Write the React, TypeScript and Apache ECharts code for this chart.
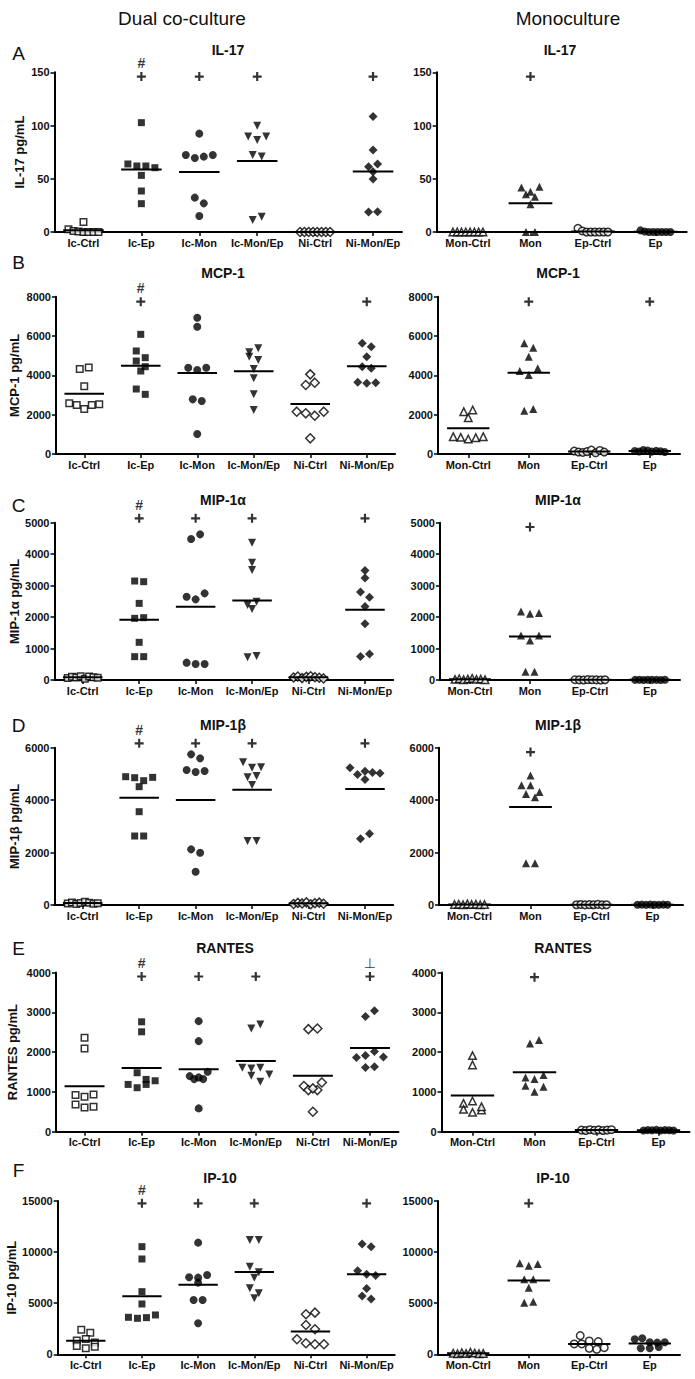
import React, { useEffect, useRef } from 'react';
import * as echarts from 'echarts';

const FONT = 'Liberation Sans, Arial, sans-serif';

const dualCats = ['Ic-Ctrl', 'Ic-Ep', 'Ic-Mon', 'Ic-Mon/Ep', 'Ni-Ctrl', 'Ni-Mon/Ep'];
const monoCats = ['Mon-Ctrl', 'Mon', 'Ep-Ctrl', 'Ep'];

// ---- IL-17 ----
const il17Dual = [
  [2.5, 9.5, 1, 0.5, 0, 0, 0, 0],
  [102.7, 63.9, 62, 62, 60.4, 53.2, 38.5, 26.6],
  [92.4, 72.3, 69.5, 70.8, 72.3, 32.3, 26.9, 15],
  [99.9, 89.6, 86.4, 89.6, 72.3, 70.8, 11.3, 14.4],
  [0, 0, 0, 0, 0, 0, 0, 0],
  [108.4, 77, 61.4, 63.9, 56.7, 49.8, 18.8, 19.1],
];
const il17Mono = [
  [0, 0, 0, 0, 0, 0, 0, 0],
  [41.7, 35.4, 33.2, 37.9, 42.6, 26, 0, 0],
  [3.5, 1, 0, 0, 0, 0, 0, 0],
  [1.5, 0.5, 0, 0, 0, 0, 0, 0],
];
const il17DualPlus = [null, 146, 146, 146, null, 146];
const il17MonoPlus = [null, 146, null, null];

// ---- MCP-1 ----
const mcp1Dual = [
  [4320, 4400, 3450, 2580, 2490, 2290, 2490, 2530],
  [6085, 5238, 4899, 4729, 4441, 4221, 3305, 3034],
  [6933, 6475, 4390, 4271, 4390, 2780, 2695, 1017],
  [5170, 5373, 4949, 4780, 4322, 3848, 3034, 2237],
  [4051, 3509, 3627, 2153, 2068, 1949, 2153, 797],
  [5627, 5458, 4949, 4441, 4356, 3650, 3593, 3627],
];
const mcp1Mono = [
  [2153, 1848, 2237, 881, 847, 763, 831, 881],
  [5627, 5407, 4949, 4220, 4017, 4356, 2203, 2288],
  [150, 100, 80, 120, 200, 60, 180, 100],
  [150, 130, 200, 180, 120, 160, 140, 100],
];
const mcp1DualPlus = [null, 7746, null, null, null, 7746];
const mcp1MonoPlus = [null, 7746, null, 7746];

// ---- MIP-1α ----
const mip1aDual = [
  [60, 100, 80, 120, 40, 110, 90, 70],
  [3146, 3125, 2436, 1960, 1981, 1197, 742, 742],
  [4481, 4629, 2648, 2563, 2754, 551, 508, 508],
  [4364, 3729, 3496, 2383, 2256, 2489, 720, 763],
  [80, 110, 60, 100, 120, 90, 70, 50],
  [3479, 3245, 2798, 2628, 2340, 1787, 745, 830],
];
const mip1aMono = [
  [20, 40, 10, 30, 50, 20, 30, 10],
  [2181, 2106, 2128, 1415, 1255, 1415, 266, 266],
  [10, 5, 0, 15, 10, 5, 0, 8],
  [5, 10, 0, 8, 5, 3, 0, 10],
];
const mip1aDualPlus = [null, 5138, 5138, 5138, null, 5138];
const mip1aMonoPlus = [null, 4862, null, null];

// ---- MIP-1β ----
const mip1bDual = [
  [60, 100, 40, 80, 120, 90, 50, 70],
  [4894, 4856, 4513, 4742, 4869, 3559, 2631, 2631],
  [5746, 5593, 5148, 5072, 5110, 2123, 1996, 1271],
  [5441, 5237, 5250, 4869, 4919, 4576, 2441, 2441],
  [40, 80, 60, 100, 30, 70, 90, 50],
  [5234, 4979, 5106, 4787, 5050, 5030, 2528, 2719],
];
const mip1bMono = [
  [20, 30, 10, 40, 20, 30, 10, 20],
  [4940, 4570, 4570, 4238, 4111, 4315, 1596, 1596],
  [10, 20, 5, 15, 10, 25, 5, 10],
  [10, 15, 5, 20, 10, 5, 15, 10],
];
const mip1bDualPlus = [null, 6165, 6165, 6165, null, 6165];
const mip1bMonoPlus = [null, 5834, null, null];

// ---- RANTES ----
const rantesDual = [
  [2360, 2092, 920, 879, 937, 686, 611, 628],
  [2761, 2510, 1481, 1314, 1188, 1105, 1188, 1280],
  [2778, 2276, 1397, 1322, 1322, 1364, 1506, 586],
  [2594, 2694, 1607, 1590, 1607, 1439, 1406, 1255],
  [2577, 2594, 1146, 1046, 1046, 1088, 1238, 502],
  [2893, 3036, 1862, 1912, 2013, 1880, 1610, 1635],
];
const rantesMono = [
  [1912, 1677, 713, 772, 562, 486, 545, 629],
  [2218, 2306, 1359, 1325, 1426, 1157, 1006, 1132],
  [40, 30, 50, 35, 45, 30, 40, 50],
  [30, 40, 35, 45, 30, 40, 35, 30],
];
const rantesDualPlus = [null, 3900, 3900, 3900, null, 3900];
const rantesMonoPlus = [null, 3883, null, null];

// ---- IP-10 ----
const ip10Dual = [
  [2400, 2100, 1350, 1500, 800, 1150, 600, 750],
  [10533, 9326, 6130, 4924, 3620, 3522, 3587, 3848],
  [10924, 7533, 7011, 7500, 7761, 5315, 5315, 3033],
  [11185, 11185, 8576, 7500, 8022, 6457, 5967, 5478],
  [3913, 4076, 2870, 2446, 1467, 1076, 978, 978],
  [10793, 10533, 8185, 7826, 7700, 6450, 5707, 5413],
];
const ip10Mono = [
  [100, 50, 150, 80, 200, 120, 60, 90],
  [8902, 8674, 8837, 7337, 7337, 6522, 5054, 5152],
  [1826, 1304, 1011, 1011, 1239, 587, 489, 652],
  [1467, 1565, 1174, 1141, 1174, 587, 587, 717],
];
const ip10DualPlus = [null, 14772, 14772, 14772, null, 14772];
const ip10MonoPlus = [null, 14772, null, null];

const dualMarks = ['', '#', '', '', '', ''];
const rantesDualMarks = ['', '#', '', '', '', '\u22A5'];

const cytokines = [
  { title: 'IL-17', yName: 'IL-17 pg/mL', max: 150, interval: 50, dual: il17Dual, mono: il17Mono, dualPlus: il17DualPlus, monoPlus: il17MonoPlus, marks: dualMarks },
  { title: 'MCP-1', yName: 'MCP-1 pg/mL', max: 8000, interval: 2000, dual: mcp1Dual, mono: mcp1Mono, dualPlus: mcp1DualPlus, monoPlus: mcp1MonoPlus, marks: dualMarks },
  { title: 'MIP-1\u03B1', yName: 'MIP-1\u03B1 pg/mL', max: 5000, interval: 1000, dual: mip1aDual, mono: mip1aMono, dualPlus: mip1aDualPlus, monoPlus: mip1aMonoPlus, marks: dualMarks },
  { title: 'MIP-1\u03B2', yName: 'MIP-1\u03B2 pg/mL', max: 6000, interval: 2000, dual: mip1bDual, mono: mip1bMono, dualPlus: mip1bDualPlus, monoPlus: mip1bMonoPlus, marks: dualMarks },
  { title: 'RANTES', yName: 'RANTES pg/mL', max: 4000, interval: 1000, dual: rantesDual, mono: rantesMono, dualPlus: rantesDualPlus, monoPlus: rantesMonoPlus, marks: rantesDualMarks },
  { title: 'IP-10', yName: 'IP-10 pg/mL', max: 15000, interval: 5000, dual: ip10Dual, mono: ip10Mono, dualPlus: ip10DualPlus, monoPlus: ip10MonoPlus, marks: dualMarks },
];

// layout (pixels)
const layout = [
  { letter: 'A', letterY: 53, titleY: 50, titleX: [228, 560], top: 72.3, height: 159.7, left: [54.5, 436.7], width: [347.5, 250], nameGap: 29 },
  { letter: 'B', letterY: 262, titleY: 273, titleX: [223, 558], top: 296.7, height: 157.3, left: [56, 438], width: [339, 242], nameGap: 35.5 },
  { letter: 'C', letterY: 505, titleY: 500, titleX: [223, 558], top: 522.7, height: 157.3, left: [54.5, 440], width: [338.7, 240], nameGap: 34 },
  { letter: 'D', letterY: 725, titleY: 725, titleX: [223, 558], top: 747.7, height: 157.3, left: [54.5, 439], width: [338.7, 244], nameGap: 34 },
  { letter: 'E', letterY: 948, titleY: 948, titleX: [225, 563], top: 972.5, height: 159.2, left: [56, 441.5], width: [342.5, 248], nameGap: 37 },
  { letter: 'F', letterY: 1170, titleY: 1178, titleX: [220, 553], top: 1201, height: 153.3, left: [57.7, 438], width: [337, 242], nameGap: 38.7 },
];

const markerStyle: Record<string, { symbol: string; size: number; open?: boolean; rotate?: number }> = {
  'Ic-Ctrl': { symbol: 'rect', size: 6.5, open: true },
  'Ic-Ep': { symbol: 'rect', size: 7 },
  'Ic-Mon': { symbol: 'circle', size: 8 },
  'Ic-Mon/Ep': { symbol: 'triangle', size: 8, rotate: 180 },
  'Ni-Ctrl': { symbol: 'diamond', size: 9, open: true },
  'Ni-Mon/Ep': { symbol: 'diamond', size: 9 },
  'Mon-Ctrl': { symbol: 'triangle', size: 7.5, open: true },
  'Mon': { symbol: 'triangle', size: 8 },
  'Ep-Ctrl': { symbol: 'circle', size: 7.5, open: true },
  'Ep': { symbol: 'circle', size: 8 },
};

const PLUS = 'path://M3.8,0H6.2V3.8H10V6.2H6.2V10H3.8V6.2H0V3.8H3.8Z';

// horizontal spreading of points that share a row (layout only)
function swarm(vals: number[], pxPerUnit: number, catPx: number): number[] {
  const idx = vals.map((_, i) => i).sort((a, b) => vals[b] - vals[a]);
  const off = new Array(vals.length).fill(0);
  let row: number[] = [];
  const flush = () => {
    const n = row.length;
    if (!n) return;
    const s = n > 1 ? Math.min(9, 30 / (n - 1)) : 0;
    const ordered = [...row].sort((a, b) => a - b);
    ordered.forEach((id, k) => {
      off[id] = ((k - (n - 1) / 2) * s) / catPx;
    });
    row = [];
  };
  for (const i of idx) {
    if (row.length && (vals[row[0]] - vals[i]) * pxPerUnit > 7) flush();
    row.push(i);
  }
  flush();
  return off;
}

function buildOption() {
  const grid: any[] = [];
  const xAxis: any[] = [];
  const yAxis: any[] = [];
  const series: any[] = [];
  const graphic: any[] = [];

  const txt = (text: string, x: number, y: number, size: number, weight: string) => ({
    type: 'text',
    x,
    y,
    style: {
      text,
      fill: '#111',
      font: `${weight} ${size}px ${FONT}`,
      textAlign: 'center',
      textVerticalAlign: 'middle',
    },
  });

  graphic.push(txt('Dual co-culture', 182, 18, 19, 'normal'));
  graphic.push(txt('Monoculture', 568, 18, 19, 'normal'));

  let gi = 0;
  cytokines.forEach((c, ri) => {
    const L = layout[ri];
    graphic.push(txt(L.letter, 18.5, L.letterY, 19, 'normal'));
    [0, 1].forEach((side) => {
      const cats = side === 0 ? dualCats : monoCats;
      const groups = side === 0 ? c.dual : c.mono;
      const plus = side === 0 ? c.dualPlus : c.monoPlus;
      const marks = side === 0 ? c.marks : null;
      graphic.push(txt(c.title, L.titleX[side], L.titleY, 14, 'bold'));
      grid.push({ left: L.left[side], top: L.top, width: L.width[side], height: L.height, containLabel: false });
      xAxis.push({
        type: 'category',
        gridIndex: gi,
        data: cats,
        boundaryGap: true,
        axisLine: { show: true, onZero: false, lineStyle: { color: '#000', width: 2 } },
        axisTick: { show: true, alignWithLabel: true, length: 4, lineStyle: { color: '#000', width: 1.5 } },
        axisLabel: { show: true, interval: 0, margin: 5, color: '#111', fontSize: 11, fontWeight: 'bold', fontFamily: FONT },
        splitLine: { show: false },
      });
      xAxis.push({ type: 'value', gridIndex: gi, min: -0.5, max: cats.length - 0.5, show: false });
      yAxis.push({
        type: 'value',
        gridIndex: gi,
        min: 0,
        max: c.max,
        interval: c.interval,
        axisLine: { show: true, onZero: false, lineStyle: { color: '#000', width: 2 } },
        axisTick: { show: true, length: 4, lineStyle: { color: '#000', width: 1.5 } },
        axisLabel: { show: true, margin: 5, color: '#111', fontSize: 11, fontWeight: 'bold', fontFamily: FONT, formatter: (v: number) => String(v) },
        splitLine: { show: false },
        name: side === 0 ? c.yName : '',
        nameLocation: 'middle',
        nameGap: L.nameGap,
        nameRotate: 90,
        nameTextStyle: { color: '#111', fontSize: 13, fontWeight: 'bold', fontFamily: FONT },
      });
      const pxPerUnit = L.height / c.max;
      const catPx = L.width[side] / cats.length;
      groups.forEach((vals, g) => {
        const ms = markerStyle[cats[g]];
        const off = swarm(vals, pxPerUnit, catPx);
        series.push({
          type: 'scatter',
          xAxisIndex: 2 * gi + 1,
          yAxisIndex: gi,
          symbol: ms.symbol,
          symbolSize: ms.size,
          symbolRotate: ms.rotate || 0,
          itemStyle: ms.open
            ? { color: '#fff', borderColor: '#000', borderWidth: 1.5 }
            : { color: '#000', borderColor: '#000', borderWidth: 0 },
          data: vals.map((v, i) => [g + off[i], v]),
          z: 3,
          silent: true,
        });
        const mean = vals.reduce((a, b) => a + b, 0) / vals.length;
        series.push({
          type: 'line',
          xAxisIndex: 2 * gi + 1,
          yAxisIndex: gi,
          symbol: 'none',
          lineStyle: { color: '#000', width: 2 },
          data: [
            [g - 0.35, mean],
            [g + 0.35, mean],
          ],
          z: 4,
          silent: true,
        });
      });
      const plusData: any[] = [];
      plus.forEach((p, g) => {
        if (p === null) return;
        const m = marks ? marks[g] : '';
        plusData.push({
          value: [g, p],
          label: {
            show: !!m,
            formatter: m,
            position: 'top',
            distance: 2,
            color: '#000',
            fontSize: 14,
            fontWeight: m === '#' ? 'bold' : 'normal',
            fontFamily: m === '#' ? FONT : 'DejaVu Sans, sans-serif',
          },
        });
      });
      series.push({
        type: 'scatter',
        xAxisIndex: 2 * gi + 1,
        yAxisIndex: gi,
        symbol: PLUS,
        symbolSize: 9,
        clip: false,
        itemStyle: { color: '#000' },
        data: plusData,
        z: 5,
        silent: true,
      });
      gi++;
    });
  });

  return {
    animation: false,
    backgroundColor: '#fff',
    grid,
    xAxis,
    yAxis,
    series,
    graphic,
  };
}

export default function App() {
  const ref = useRef<HTMLDivElement>(null);
  useEffect(() => {
    if (!ref.current) return;
    const chart = echarts.init(ref.current, null, { renderer: 'svg' });
    chart.setOption(buildOption() as any);
    return () => chart.dispose();
  }, []);
  return <div ref={ref} style={{ position: 'absolute', left: 0, top: 0, width: 695, height: 1379, background: '#fff' }} />;
}
